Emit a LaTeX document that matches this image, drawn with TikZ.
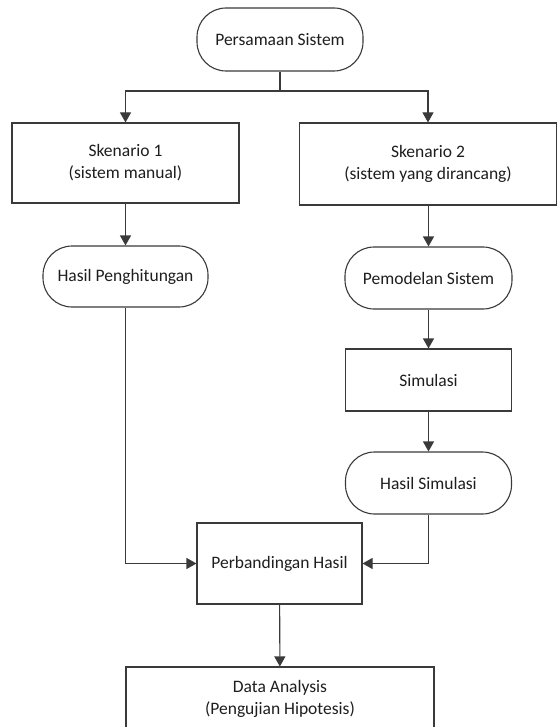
\documentclass[tikz,border=0pt]{standalone}
\usepackage{fontspec}
\setmainfont{Carlito}
\usetikzlibrary{arrows.meta}
\definecolor{ln}{HTML}{3A3A3A}
\definecolor{tx}{HTML}{1E1E1E}
\tikzset{
  base/.style={draw=ln, line width=1.1pt, fill=white, text=tx, align=center,
    font=\fontsize{17.5}{22}\selectfont, inner sep=0pt},
  procbox/.style={base, rectangle},
  termbox/.style={base, rectangle, rounded corners=29pt},
  conn/.style={draw=ln, line width=1.1pt, -{Triangle[length=10pt,width=11pt]}},
  plain/.style={draw=ln, line width=1.1pt}
}
\begin{document}
\begin{tikzpicture}[x=1pt,y=-1pt]
\useasboundingbox (0,0) rectangle (558,727);
\node[termbox, minimum width=166pt, minimum height=63pt] (pers) at (280,39.5) {Persamaan Sistem};
\node[procbox, minimum width=227pt, minimum height=80pt] (sk1) at (125.5,163) {Skenario 1\\(sistem manual)};
\node[procbox, minimum width=257pt, minimum height=82pt] (sk2) at (428,164) {Skenario 2\\(sistem yang dirancang)};
\node[termbox, minimum width=165pt, minimum height=61pt] (hp) at (125.5,276.5) {Hasil Penghitungan};
\node[termbox, minimum width=167pt, minimum height=62pt] (pem) at (428.5,278) {Pemodelan Sistem};
\node[procbox, minimum width=166pt, minimum height=62pt] (sim) at (428.5,380) {Simulasi};
\node[termbox, minimum width=166pt, minimum height=62pt] (hs) at (428.5,483) {Hasil Simulasi};
\node[procbox, minimum width=165pt, minimum height=81pt] (perb) at (279.5,563.5) {Perbandingan Hasil};
\node[procbox, minimum width=308pt, minimum height=64pt] (da) at (280,699) {Data Analysis\\(Pengujian Hipotesis)};
\coordinate (split) at (280,91);
\draw[plain] (pers) -- (split);
\draw[conn] (split) -| (sk1);
\draw[conn] (split) -| (sk2);
\draw[conn] (sk1) -- (hp);
\draw[conn] (sk2.south -| pem.north) -- (pem);
\draw[conn] (pem) -- (sim);
\draw[conn] (sim) -- (hs);
\draw[conn] (hp) |- (perb);
\draw[conn] (hs) |- (perb);
\draw[conn] (perb) -- (da);
\end{tikzpicture}
\end{document}
